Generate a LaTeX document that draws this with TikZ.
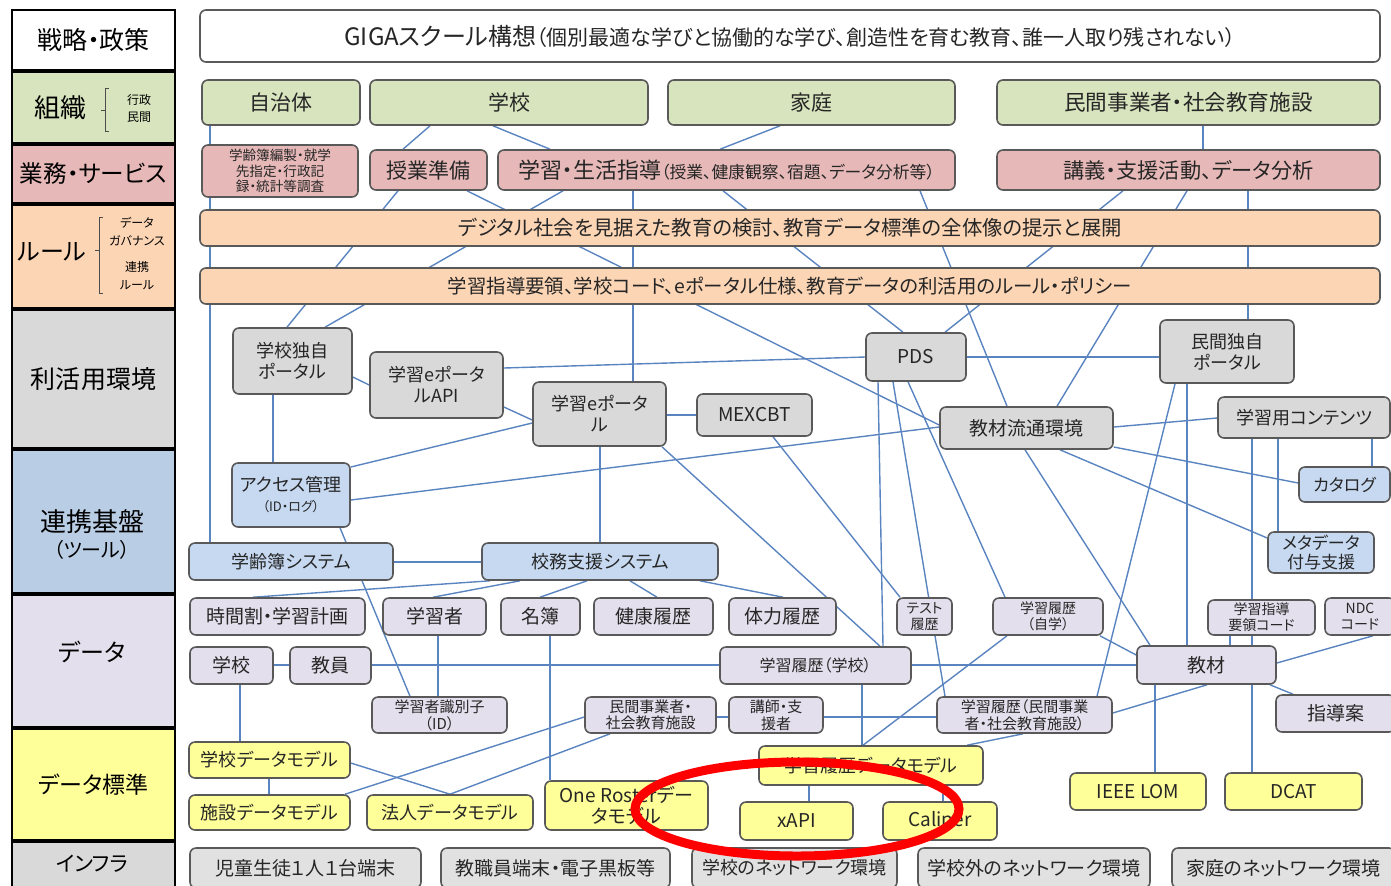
\documentclass[tikz,border=0pt]{standalone}
\usepackage{fontspec}
\setmainfont{Noto Sans CJK JP}[RawFeature=+palt]
\usetikzlibrary{backgrounds}
\definecolor{orggreen}{HTML}{D7E4BD}
\definecolor{srvpink}{HTML}{E6B9B8}
\definecolor{rulepeach}{HTML}{FCD5B5}
\definecolor{envgray}{HTML}{D9D9D9}
\definecolor{bandblue}{HTML}{B9CDE5}
\definecolor{nodeblue}{HTML}{C6D9F1}
\definecolor{datalav}{HTML}{E4DFEC}
\definecolor{stdyellow}{HTML}{FFFF99}
\definecolor{linkblue}{HTML}{5A84C0}
\definecolor{boxline}{HTML}{595959}
\tikzset{
	box/.style={draw=boxline, line width=0.8pt, rounded corners=3pt, inner sep=0pt, align=center, text=black!85},
	gbox/.style={box, fill=orggreen},
	pbox/.style={box, fill=srvpink},
	obox/.style={box, fill=rulepeach},
	ebox/.style={box, fill=envgray},
	bbox/.style={box, fill=nodeblue},
	dbox/.style={box, fill=datalav},
	sbox/.style={box, fill=stdyellow},
	ibox/.style={box, fill=envgray!80},
	band/.style={draw=black, line width=1.4pt, inner sep=0pt, minimum width=81.5pt},
	link/.style={draw=linkblue, line width=0.7pt},
	f/.style 2 args={font=\fontsize{#1}{#2}\selectfont},
}
\begin{document}
\begin{tikzpicture}[x=0.5pt, y=-0.5pt]
	\useasboundingbox (0,0) rectangle (1391,885);
	% left column
	\node[band, fill=white, minimum height=30pt, f={12.5}{14}] (strat) at (93.5,40) {戦略・政策};
	\node[band, fill=orggreen, minimum height=35.5pt] (org) at (93.5,107.5) {};
	\node[band, fill=srvpink, minimum height=29pt, f={11.8}{14}] (serv) at (93.5,174) {業務・サービス};
	\node[band, fill=rulepeach, minimum height=51.5pt] (rule) at (93.5,256.5) {};
	\node[band, fill=envgray, minimum height=69pt, f={12.5}{14}] (env) at (93.5,379) {利活用環境};
	\node[band, fill=bandblue, minimum height=71.5pt] (base) at (93.5,521.5) {};
	\node[band, fill=datalav, minimum height=66pt] (data) at (93.5,661) {};
	\node[band, fill=stdyellow, minimum height=55.5pt, f={11.5}{13}] (std) at (93.5,784.5) {データ標準};
	\node[band, fill=envgray, minimum height=26.5pt] (infra) at (93.5,868.5) {};
	\node[f={13}{15}] (orglbl) at (60,108) {組織};
	\node[f={6}{7}] (gyosei) at (139,100) {行政};
	\node[f={6}{7}] (minkanlbl) at (139,117) {民間};
	\draw[line width=0.5pt, black!70] (109,88) -- (105,88) -- (105,131) -- (109,131) (105,110) -- (101,110);
	\node[f={12}{14}] (rulelbl) at (52,252) {ルール};
	\draw[line width=0.5pt, black!70] (103,217) -- (99,217) -- (99,293) -- (103,293) (99,250) -- (95,250);
	\node[f={6}{7}] (dg1) at (137,223) {データ};
	\node[f={6}{7}] (dg2) at (137,241) {ガバナンス};
	\node[f={6}{7}] (rr1) at (137,267) {連携};
	\node[f={6}{7}] (rr2) at (137,285) {ルール};
	\node[f={13}{15}] (baselbl) at (92,522) {連携基盤};
	\node[f={10}{12}] (toollbl) at (92,550) {（ツール）};
	\node[f={12}{14}] (datalbl) at (92,652) {データ};
	\node[f={10.5}{12}] (infralbl) at (92,864) {インフラ};

	% strategy, organisations, services
	\node[box, fill=white, minimum width=590pt, minimum height=26pt] (giga) at (790,36) {{\fontsize{12}{14}\selectfont GIGAスクール構想}{\fontsize{10.5}{12}\selectfont（個別最適な学びと協働的な学び、創造性を育む教育、誰一人取り残されない）}};
	\node[gbox, minimum width=79pt, minimum height=22.5pt, f={10.5}{12}] (jichitai) at (281,102.5) {自治体};
	\node[gbox, minimum width=139pt, minimum height=22.5pt, f={10.5}{12}] (gakko) at (509,102.5) {学校};
	\node[gbox, minimum width=143.5pt, minimum height=22.5pt, f={10.5}{12}] (katei) at (811.5,102.5) {家庭};
	\node[gbox, minimum width=191.5pt, minimum height=22.5pt, f={10.8}{12}] (minkan) at (1188.5,102.5) {民間事業者・社会教育施設};
	\node[pbox, minimum width=78pt, minimum height=26pt, f={6.8}{7.8}] (gakureibo) at (280,171) {学齢簿編製・就学\\先指定・行政記\\録・統計等調査};
	\node[pbox, minimum width=58.5pt, minimum height=20pt, f={10.5}{12}] (jugyo) at (428.5,170) {授業準備};
	\node[pbox, minimum width=228.5pt, minimum height=20pt, f={11}{12}] (seikatsu) at (726.5,170) {学習・生活指導{\fontsize{8.4}{10}\selectfont（授業、健康観察、宿題、データ分析等）}};
	\node[pbox, minimum width=191.5pt, minimum height=20pt, f={10.6}{12}] (kogi) at (1188.5,170) {講義・支援活動、データ分析};
	\node[obox, minimum width=590pt, minimum height=18pt, f={10.2}{11}] (digital) at (790,228) {デジタル社会を見据えた教育の検討、教育データ標準の全体像の提示と展開};
	\node[obox, minimum width=590pt, minimum height=18pt, f={9.7}{11}] (shido) at (790,286) {学習指導要領、学校コード、eポータル仕様、教育データの利活用のルール・ポリシー};

	% environment and tools
	\node[ebox, minimum width=59.5pt, minimum height=33pt, f={9}{10.5}] (portal) at (292.5,361) {学校独自\\ポータル};
	\node[ebox, minimum width=66.5pt, minimum height=33pt, f={9}{10.5}] (eapi) at (436.5,385) {学習eポータ\\ルAPI};
	\node[ebox, minimum width=66.5pt, minimum height=32pt, f={9}{10.5}] (eportal) at (599.5,414) {学習eポータ\\ル};
	\node[ebox, minimum width=57.5pt, minimum height=21pt, f={9.5}{11}] (mexcbt) at (754.5,415) {MEXCBT};
	\node[ebox, minimum width=50pt, minimum height=24pt, f={9.5}{11}] (pds) at (916,357) {PDS};
	\node[ebox, minimum width=67pt, minimum height=31.5pt, f={9}{10.5}] (minportal) at (1227,351.5) {民間独自\\ポータル};
	\node[ebox, minimum width=86.5pt, minimum height=21pt, f={9.5}{11}] (ryutsu) at (1026.5,428) {教材流通環境};
	\node[ebox, minimum width=86pt, minimum height=20.5pt, f={9}{10}] (contents) at (1304,417.5) {学習用コンテンツ};
	\node[bbox, minimum width=45.5pt, minimum height=17.5pt, f={8.5}{9.5}] (catalog) at (1344.5,484.5) {カタログ};
	\node[bbox, minimum width=59pt, minimum height=32pt, f={9}{10}] (access) at (291,495) {アクセス管理\\{\fontsize{6.5}{8}\selectfont（ID・ログ）}};
	\node[bbox, minimum width=102pt, minimum height=18.5pt, f={9}{10}] (gakureisys) at (291,561.5) {学齢簿システム};
	\node[bbox, minimum width=118pt, minimum height=18.5pt, f={9}{10}] (komu) at (600,561.5) {校務支援システム};
	\node[bbox, minimum width=53pt, minimum height=20.5pt, f={8.5}{9.5}] (meta) at (1321,552.5) {メタデータ\\付与支援};

	% data
	\node[dbox, minimum width=87.5pt, minimum height=18.5pt, f={9.5}{10.5}] (jikanwari) at (277.5,616.5) {時間割・学習計画};
	\node[dbox, minimum width=51.5pt, minimum height=18.5pt, f={9.5}{11}] (gakushusha) at (434.5,616.5) {学習者};
	\node[dbox, minimum width=39.5pt, minimum height=18.5pt, f={9.5}{11}] (meibo) at (540.5,616.5) {名簿};
	\node[dbox, minimum width=59.5pt, minimum height=18.5pt, f={9.5}{11}] (kenko) at (653.5,616.5) {健康履歴};
	\node[dbox, minimum width=53.5pt, minimum height=18.5pt, f={9.5}{11}] (tairyoku) at (782.5,616.5) {体力履歴};
	\node[dbox, minimum width=27.5pt, minimum height=18.5pt, f={7}{8}] (test) at (924.5,616.5) {テスト\\履歴};
	\node[dbox, minimum width=55pt, minimum height=18.5pt, f={7}{8}] (jigaku) at (1048,616.5) {学習履歴\\（自学）};
	\node[dbox, minimum width=53.5pt, minimum height=17.5pt, f={7}{8}] (yoryocode) at (1261.5,617.5) {学習指導\\要領コード};
	\node[dbox, minimum width=35pt, minimum height=18.5pt, f={7}{8}] (ndc) at (1360,616.5) {NDC\\コード};
	\node[dbox, minimum width=41.5pt, minimum height=18.5pt, f={9.5}{11}] (school) at (231.5,665.5) {学校};
	\node[dbox, minimum width=40.5pt, minimum height=18.5pt, f={9.5}{11}] (kyoin) at (330.5,665.5) {教員};
	\node[dbox, minimum width=95.5pt, minimum height=18.5pt, f={8}{9.5}] (rireki) at (815.5,665.5) {学習履歴（学校）};
	\node[dbox, minimum width=69.5pt, minimum height=19pt, f={9.5}{11}] (kyozai) at (1206.5,665) {教材};
	\node[dbox, minimum width=67.5pt, minimum height=18pt, f={7.5}{8.5}] (shikibetsu) at (439.5,715) {学習者識別子\\（ID）};
	\node[dbox, minimum width=65.5pt, minimum height=18pt, f={7.5}{8}] (minkanshisetsu) at (650.5,715) {民間事業者・\\社会教育施設};
	\node[dbox, minimum width=47pt, minimum height=18pt, f={7.5}{8.5}] (koshi) at (776,715) {講師・支\\援者};
	\node[dbox, minimum width=87.5pt, minimum height=18pt, f={7.5}{8.5}] (minrireki) at (1024.5,715) {学習履歴（民間事業\\者・社会教育施設）};
	\node[dbox, minimum width=59.5pt, minimum height=18.5pt, f={9.5}{11}] (shidoan) at (1335.5,713.5) {指導案};

	% data standards
	\node[sbox, minimum width=80.5pt, minimum height=18pt, f={9}{10}] (gakkomodel) at (269.5,760) {学校データモデル};
	\node[sbox, minimum width=80.5pt, minimum height=17.5pt, f={9}{10}] (shisetsumodel) at (269.5,812.5) {施設データモデル};
	\node[sbox, minimum width=83pt, minimum height=17.5pt, f={9}{10}] (hojinmodel) at (450,812.5) {法人データモデル};
	\node[sbox, minimum width=81.5pt, minimum height=24.5pt, f={9.5}{10.5}] (oneroster) at (626.5,805.5) {One Rosterデー\\タモデル};
	\node[sbox, minimum width=112pt, minimum height=19.5pt, f={9}{10}] (rirekimodel) at (871,765.5) {学習履歴データモデル};
	\node[sbox, minimum width=56.5pt, minimum height=19pt, f={9.5}{11}] (xapi) at (796.5,821) {xAPI};
	\node[sbox, minimum width=57pt, minimum height=19pt, f={9.5}{11}] (caliper) at (940,821) {Caliper};
	\node[sbox, minimum width=68pt, minimum height=18.5pt, f={9.5}{11}] (lom) at (1138,791.5) {IEEE LOM};
	\node[sbox, minimum width=68.5pt, minimum height=18.5pt, f={9.5}{11}] (dcat) at (1293.5,791.5) {DCAT};

	% infrastructure
	\node[ibox, minimum width=115.5pt, minimum height=20pt, f={9.5}{10.5}] (tanmatsu) at (305.5,868) {児童生徒１人１台端末};
	\node[ibox, minimum width=114.5pt, minimum height=20pt, f={9.5}{10.5}] (kyoshoku) at (555.5,868) {教職員端末・電子黒板等};
	\node[ibox, minimum width=102.5pt, minimum height=20pt, f={9}{10.5}] (gakkonet) at (794.5,868) {学校のネットワーク環境};
	\node[ibox, minimum width=116pt, minimum height=20pt, f={9.5}{10.5}] (gakkogainet) at (1034,868) {学校外のネットワーク環境};
	\node[ibox, minimum width=111.5pt, minimum height=20pt, f={9.5}{10.5}] (kateinet) at (1283.5,868) {家庭のネットワーク環境};

	% connectors, behind the boxes
	\begin{scope}[on background layer]
		\draw[link] (jichitai.south -| 210,0) -- (gakureisys.north -| 210,0);
		\draw[link] (gakko.south -| 430,0) -- (jugyo.north -| 403,0);
		\draw[link] (gakko.south -| 493,0) -- (seikatsu.north -| 550,0);
		\draw[link] (katei.south -| 780,0) -- (seikatsu.north -| 720,0);
		\draw[link] (minkan.south -| 1203,0) -- (kogi.north -| 1203,0);
		\draw[link] (jugyo.south -| 398,0) -- (portal.north -| 287,0);
		\draw[link] (jugyo.south -| 467,0) -- (ryutsu.west |- 0,425);
		\draw[link] (seikatsu.south -| 563,0) -- (portal.north -| 325,0);
		\draw[link] (seikatsu.south -| 633,0) -- (eportal.north -| 633,0);
		\draw[link] (seikatsu.south -| 723,0) -- (pds.north -| 903,0);
		\draw[link] (seikatsu.south -| 920,0) -- (ryutsu.north -| 1007,0);
		\draw[link] (kogi.south -| 1123,0) -- (pds.north -| 945,0);
		\draw[link] (kogi.south -| 1187,0) -- (ryutsu.north -| 1057,0);
		\draw[link] (kogi.south -| 1248,0) -- (minportal.north -| 1248,0);
		\draw[link] (portal.east |- 0,377) -- (eapi.west |- 0,385);
		\draw[link] (portal.south -| 273,0) -- (access.north -| 273,0);
		\draw[link] (eapi.east |- 0,368) -- (pds.west |- 0,357);
		\draw[link] (eapi.east |- 0,407) -- (eportal.west |- 0,420);
		\draw[link] (access.east |- 0,467) -- (eportal.west |- 0,423);
		\draw[link] (access.east |- 0,500) -- (ryutsu.west |- 0,427);
		\draw[link] (eportal.east |- 0,415) -- (mexcbt.west |- 0,415);
		\draw[link] (eportal.south -| 600,0) -- (komu.north -| 600,0);
		\draw[link] (eportal.south -| 662,0) -- (rireki.north -| 880,0);
		\draw[link] (mexcbt.south -| 773,0) -- (test.north -| 900,0);
		\draw[link] (pds.south -| 878,0) -- (rireki.north -| 883,0);
		\draw[link] (pds.south -| 893,0) -- (minrireki.north -| 945,0);
		\draw[link] (pds.south -| 908,0) -- (jigaku.north -| 1005,0);
		\draw[link] (pds.east |- 0,357) -- (minportal.west |- 0,357);
		\draw[link] (ryutsu.east |- 0,427) -- (contents.west |- 0,418);
		\draw[link] (ryutsu.east |- 0,447) -- (catalog.west |- 0,483);
		\draw[link] (ryutsu.south -| 1060,0) -- (meta.west |- 0,538);
		\draw[link] (ryutsu.south -| 1025,0) -- (kyozai.north -| 1150,0);
		\draw[link] (minportal.south -| 1175,0) -- (minrireki.north -| 1097,0);
		\draw[link] (minportal.south -| 1187,0) -- (kyozai.north -| 1187,0);
		\draw[link] (contents.south -| 1252,0) -- (dcat.north -| 1252,0);
		\draw[link] (contents.south -| 1278,0) -- (meta.north -| 1278,0);
		\draw[link] (contents.south -| 1372,0) -- (catalog.north -| 1372,0);
		\draw[link] (yoryocode.south -| 1230,0) -- (kyozai.north -| 1230,0);
		\draw[link] (ndc.south -| 1373,0) -- (kyozai.east |- 0,663);
		\draw[link] (kyozai.south -| 1270,0) -- (shidoan.north -| 1293,0);
		\draw[link] (kyozai.south -| 1155,0) -- (lom.north -| 1155,0);
		\draw[link] (jigaku.south -| 1100,0) -- (kyozai.west |- 0,655);
		\draw[link] (minrireki.east |- 0,713) -- (kyozai.south -| 1207,0);
		\draw[link] (rireki.east |- 0,665) -- (kyozai.west |- 0,665);
		\draw[link] (kyoin.east |- 0,665) -- (rireki.west |- 0,665);
		\draw[link] (school.east |- 0,665) -- (kyoin.west |- 0,665);
		\draw[link] (school.south -| 240,0) -- (gakkomodel.north -| 240,0);
		\draw[link] (gakkomodel.south -| 269,0) -- (shisetsumodel.north -| 269,0);
		\draw[link] (gakkomodel.east |- 0,763) -- (hojinmodel.north -| 450,0);
		\draw[link] (shisetsumodel.north -| 345,0) -- (minkanshisetsu.west |- 0,717);
		\draw[link] (hojinmodel.north -| 450,0) -- (minkanshisetsu.south -| 610,0);
		\draw[link] (gakushusha.south -| 438,0) -- (shikibetsu.north -| 438,0);
		\draw[link] (meibo.south -| 550,0) -- (oneroster.north -| 550,0);
		\draw[link] (access.south -| 340,0) -- (shikibetsu.north -| 410,0);
		\draw[link] (minkanshisetsu.east |- 0,717) -- (koshi.west |- 0,717);
		\draw[link] (koshi.east |- 0,717) -- (minrireki.west |- 0,717);
		\draw[link] (rireki.south -| 862,0) -- (rirekimodel.north -| 862,0);
		\draw[link] (jigaku.south -| 1007,0) -- (rirekimodel.north -| 863,0);
		\draw[link] (minrireki.south -| 1023,0) -- (rirekimodel.north -| 967,0);
		\draw[link] (rirekimodel.south -| 809,0) -- (xapi.north -| 809,0);
		\draw[link] (rirekimodel.south -| 943,0) -- (caliper.north -| 943,0);
		\draw[link] (gakureisys.east |- 0,562) -- (komu.west |- 0,562);
		\draw[link] (komu.south -| 490,0) -- (jikanwari.north -| 253,0);
		\draw[link] (komu.south -| 520,0) -- (gakushusha.north -| 433,0);
		\draw[link] (komu.south -| 587,0) -- (meibo.north -| 540,0);
		\draw[link] (komu.south -| 630,0) -- (kenko.north -| 657,0);
		\draw[link] (komu.south -| 700,0) -- (tairyoku.north -| 783,0);
	\end{scope}

	\draw[red, line width=4.5pt] (797,809) ellipse [x radius=81pt, y radius=23.5pt];
\end{tikzpicture}
\end{document}
